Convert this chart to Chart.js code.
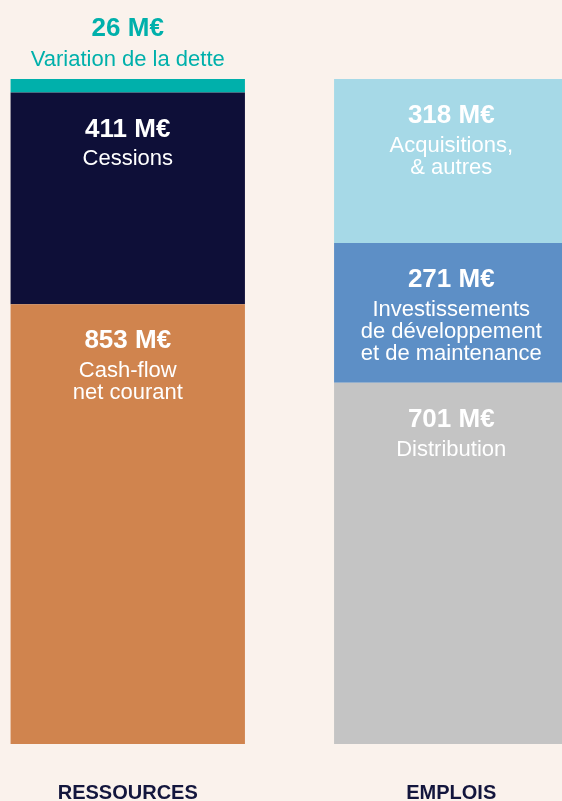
<!DOCTYPE html>
<html>
<head>
<meta charset="utf-8">
<script src="https://cdn.jsdelivr.net/npm/chart.js@4.4.1/dist/chart.umd.min.js"></script>
<style>
  html, body { margin: 0; padding: 0; background: #faf2ec; overflow: hidden; }
  #wrap { position: absolute; top: 0; left: -34px; width: 647px; height: 801px; }
</style>
</head>
<body>
<div id="wrap"><canvas id="myChart"></canvas></div>
<script>
//Columns
var categories = ["RESSOURCES", "EMPLOIS"];
//Stack levels, bottom to top (M€)
var bottomValues = [853, 701];
var middleValues = [411, 271];
var topValues = [26, 318];
//Names shown under each amount
var bottomNames = [["Cash-flow", "net courant"], ["Distribution"]];
var middleNames = [["Cessions"], ["Investissements", "de développement", "et de maintenance"]];
var topNames = [["Variation de la dette"], ["Acquisitions,", "& autres"]];

//colors per column
var bottomColors = ["#d0844e", "#c4c4c4"];
var middleColors = ["#0e0f38", "#5d8fc6"];
var topColors = ["#00b0ab", "#a6d9e7"];

var FONT = "'Liberation Sans', Arial, sans-serif";

//total height of the tallest column
var maxTotal = 0;
for (var i = 0; i < categories.length; i++) {
    var t = bottomValues[i] + middleValues[i] + topValues[i];
    if (t > maxTotal) maxTotal = t;
}

var allNames = [bottomNames, middleNames, topNames];

//writes amount and name inside every block (or above it when the block is thin)
var segmentLabels = {
    id: "segmentLabels",
    afterDatasetsDraw: function (chart) {
        var ctx = chart.ctx;
        ctx.save();
        ctx.textAlign = "center";
        ctx.textBaseline = "middle";
        chart.data.datasets.forEach(function (ds, d) {
            var meta = chart.getDatasetMeta(d);
            meta.data.forEach(function (bar, i) {
                var top = bar.y;
                var h = bar.base - bar.y;
                var lines = allNames[d][i];
                var valueY, nameY, color;
                if (h < 40) {
                    //thin block: labels go above, in the block color
                    color = ds.backgroundColor[i];
                    valueY = top - 50;
                    nameY = top - 19;
                } else {
                    color = "#ffffff";
                    valueY = top + 37;
                    nameY = valueY + 30;
                }
                ctx.fillStyle = color;
                ctx.font = "bold 26px " + FONT;
                ctx.fillText(ds.data[i] + " M€", bar.x, valueY);
                ctx.font = "22px " + FONT;
                for (var k = 0; k < lines.length; k++) {
                    ctx.fillText(lines[k], bar.x, nameY + k * 22);
                }
            });
        });
        ctx.restore();
    }
};

var ctx = document.getElementById("myChart").getContext("2d");
var myChart = new Chart(ctx, {
    type: "bar",
    data: {
        labels: categories,
        datasets: [{
            data: bottomValues,
            backgroundColor: bottomColors
        }, {
            data: middleValues,
            backgroundColor: middleColors
        }, {
            data: topValues,
            backgroundColor: topColors
        }]
    },
    options: {
        responsive: true,
        maintainAspectRatio: false,
        animation: false,
        categoryPercentage: 234 / 323,
        barPercentage: 1,
        borderWidth: 0,
        layout: { padding: { top: 79, bottom: -41, left: 0, right: 0 } },
        plugins: {
            legend: { display: false },
            tooltip: { enabled: false }
        },
        scales: {
            x: {
                stacked: true,
                grid: { display: false, drawTicks: false },
                border: { display: false },
                ticks: {
                    padding: 39,
                    color: "#13163d",
                    font: { family: FONT, size: 20, weight: "bold", lineHeight: 1 }
                }
            },
            y: {
                stacked: true,
                display: false,
                min: 0,
                max: maxTotal
            }
        }
    },
    plugins: [segmentLabels]
});
</script>
</body>
</html>
